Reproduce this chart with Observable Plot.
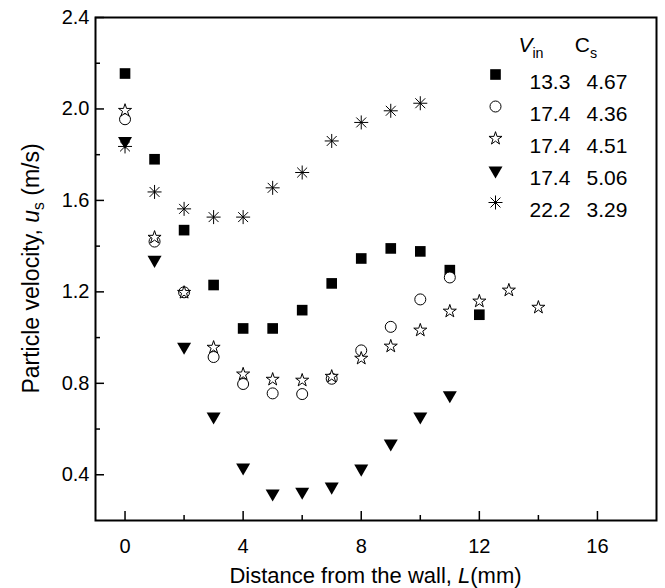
<!DOCTYPE html>
<html><head><meta charset="utf-8">
<script src="https://cdn.jsdelivr.net/npm/d3@7"></script>
<script src="https://cdn.jsdelivr.net/npm/@observablehq/plot@0.6"></script>
<style>
body{margin:0;background:#fff}
#chart{width:665px;height:588px}
</style>
</head><body><div id="chart"></div>
<script>
// ---- data ----
const distance = [0,1,2,3,4,5,6,7,8,9,10,11,12,13,14];
const seriesVin = ["13.3","17.4","17.4","17.4","22.2"];
const seriesCs  = ["4.67","4.36","4.51","5.06","3.29"];
const velSquare   = [2.155,1.78,1.47,1.23,1.04,1.04,1.12,1.237,1.346,1.39,1.377,1.295,1.10];
const velCircle   = [1.955,1.42,1.198,0.915,0.797,0.756,0.753,0.82,0.944,1.047,1.167,1.263];
const velStar     = [1.993,1.438,1.197,0.957,0.84,0.817,0.813,0.83,0.909,0.962,1.032,1.115,1.159,1.207,1.132];
const velTriangle = [1.86,1.34,0.96,0.655,0.432,0.318,0.326,0.348,0.427,0.537,0.655,0.748];
const velAsterisk = [1.836,1.637,1.563,1.527,1.527,1.655,1.722,1.86,1.941,1.992,2.025];
const xMajor = [0,4,8,12,16];
const xMinor = [2,6,10,14];
const yMajor = [0.4,0.8,1.2,1.6,2.0,2.4];
const yMinor = [0.6,1.0,1.4,1.8,2.2];

// ---- styling ----
const W = 665, H = 588;
const M = {left:95, right:9, top:17, bottom:68};
const innerW = W - M.left - M.right, innerH = H - M.top - M.bottom;
const FONT = "'Liberation Sans', Arial, Helvetica, sans-serif";
const FS = 20, FS_TITLE = 22, FS_YTITLE = 23, FS_LEG = 21;

const asterisk8 = {draw(ctx, size){
  const r = Math.sqrt(size/Math.PI), d = r*Math.SQRT1_2;
  ctx.moveTo(-r,0); ctx.lineTo(r,0);
  ctx.moveTo(0,-r); ctx.lineTo(0,r);
  ctx.moveTo(-d,-d); ctx.lineTo(d,d);
  ctx.moveTo(-d,d); ctx.lineTo(d,-d);
}};

const styles = [
  {symbol:"square",   r:6.0, fill:"black", stroke:"none", rotate:0},
  {symbol:"circle",   r:5.5, fill:"white", stroke:"black", rotate:0, strokeWidth:1},
  {symbol:"star",     r:4.1, fill:"white", stroke:"black", rotate:0, strokeWidth:1},
  {symbol:"triangle", r:5.2, fill:"black", stroke:"none", rotate:180},
  {symbol:asterisk8,  r:7.0, fill:"none",  stroke:"black", rotate:0, strokeWidth:1}
];
const vels = [velSquare, velCircle, velStar, velTriangle, velAsterisk];

const marks = [];
vels.forEach((v, i) => {
  const rows = v.map((u, k) => ({L: distance[k], u}));
  const s = styles[i];
  marks.push(Plot.dot(rows, {x:"L", y:"u", symbol: s.symbol, r: s.r, fill: s.fill, stroke: s.stroke, rotate: s.rotate, strokeWidth: s.strokeWidth ?? 1}));
});
marks.push(Plot.tickX(xMajor, {x: d=>d, insetTop: innerH - 9, strokeWidth: 1.5}));
marks.push(Plot.tickX(xMinor, {x: d=>d, insetTop: innerH - 5, strokeWidth: 1.5}));
marks.push(Plot.tickY(yMajor, {y: d=>d, insetRight: innerW - 9, strokeWidth: 1.5}));
marks.push(Plot.tickY(yMinor, {y: d=>d, insetRight: innerW - 5, strokeWidth: 1.5}));
marks.push(Plot.frame({stroke:"black", strokeWidth:2}));
marks.push(Plot.axisX({ticks: xMajor, tickSize: 0, tickPadding: 18, fontSize: FS, label: null}));
marks.push(Plot.axisY({ticks: yMajor, tickSize: 0, tickPadding: 6, fontSize: FS, tickFormat: d3.format(".1f"), label: null}));
// legend
const legY0 = 57, legStep = 32;
styles.forEach((s, i) => {
  const dy = legY0 + i*legStep;
  marks.push(Plot.dot([0], {frameAnchor:"top-right", dx:-161, dy, symbol: s.symbol, r: s.r, fill: s.fill, stroke: s.stroke, rotate: s.rotate, strokeWidth: s.strokeWidth ?? 1}));
  marks.push(Plot.text([seriesVin[i]], {frameAnchor:"top-right", dx:-127, dy, text: d=>d, textAnchor:"start", fontSize: FS_LEG, fill:"black"}));
  marks.push(Plot.text([seriesCs[i]],  {frameAnchor:"top-right", dx:-70,  dy, text: d=>d, textAnchor:"start", fontSize: FS_LEG, fill:"black"}));
});

const chart = Plot.plot({
  width: W, height: H,
  marginLeft: M.left, marginRight: M.right, marginTop: M.top, marginBottom: M.bottom,
  style: {fontFamily: FONT, fontSize: FS+"px", color:"black", background:"white"},
  x: {domain: [-1, 18]},
  y: {domain: [0.2, 2.4]},
  marks
});
document.getElementById("chart").appendChild(chart);

// rich-text titles and legend headers
const svg = d3.select(chart);
function rich(parent, fs, parts){
  parts.forEach(p => {
    const t = parent.append("tspan").text(p.t).attr("font-size", (p.small ? fs*0.68 : fs) + "px");
    if (p.i) t.attr("font-style","italic");
    if (p.dy) t.attr("dy", p.dy);
  });
}
const gx = svg.append("text").attr("x", (M.left + W - M.right)/2).attr("y", 583)
  .attr("text-anchor","middle").attr("fill","black").attr("font-family", FONT);
rich(gx, FS_TITLE, [{t:"Distance from the wall, "},{t:"L",i:true},{t:"(mm)"}]);

const gy = svg.append("text").attr("transform","rotate(-90)").attr("x", -(M.top + innerH/2)).attr("y", 39)
  .attr("text-anchor","middle").attr("fill","black").attr("font-family", FONT);
rich(gy, FS_YTITLE, [{t:"Particle velocity, "},{t:"u",i:true},{t:"s",small:true,dy:5},{t:" (m/s)",dy:-5}]);

const hv = svg.append("text").attr("x", 531).attr("y", 52).attr("fill","black").attr("font-family", FONT);
rich(hv, FS_LEG, [{t:"V",i:true},{t:"in",small:true,dy:6}]);
const hc = svg.append("text").attr("x", 586).attr("y", 52).attr("fill","black").attr("font-family", FONT);
rich(hc, FS_LEG, [{t:"C"},{t:"s",small:true,dy:6}]);
</script>
</body></html>
